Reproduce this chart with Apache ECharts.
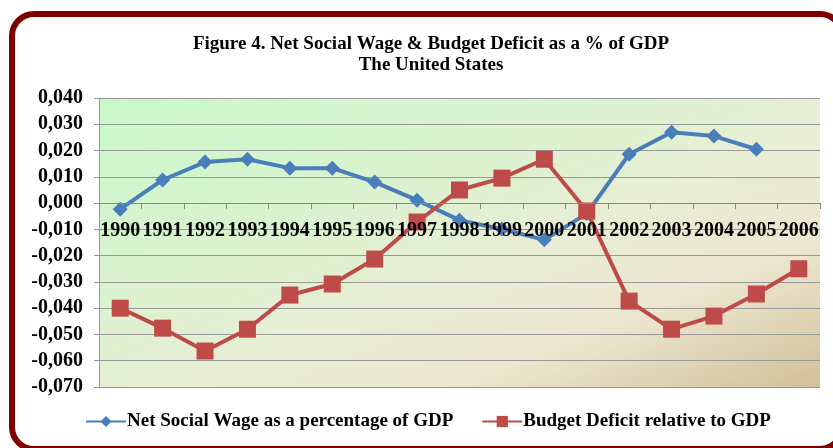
<!DOCTYPE html>
<html>
<head>
<meta charset="utf-8">
<script src="https://cdn.jsdelivr.net/npm/echarts@6/dist/echarts.min.js"></script>
<style>
  html, body { margin: 0; padding: 0; background: #fff; }
  #chart { width: 833px; height: 448px; }
</style>
</head>
<body>
<div id="chart"></div>
<script>
// years on the category axis
var years = ['1990', '1991', '1992', '1993', '1994', '1995', '1996', '1997', '1998',
  '1999', '2000', '2001', '2002', '2003', '2004', '2005', '2006'];
// net social wage, share of GDP (no value for 2006)
var netSocialWage = [-0.0023, 0.0088, 0.0156, 0.0167, 0.0133, 0.0133, 0.0080, 0.0011, -0.0065,
  -0.0099, -0.0140, -0.0040, 0.0186, 0.0270, 0.0255, 0.0205, null];
// budget deficit relative to GDP
var budgetDeficit = [-0.0400, -0.0476, -0.0563, -0.0480, -0.0350, -0.0308, -0.0213, -0.0072, 0.0050,
  0.0095, 0.0167, -0.0030, -0.0373, -0.0480, -0.0430, -0.0346, -0.0250];

var serif = 'Liberation Serif';
var gridTop = 98, gridBottom = 61;
var myChart = echarts.init(document.getElementById('chart'));

// put the category axis on the zero line (labels follow it)
var plotH = 448 - gridTop - gridBottom;
var zeroOffset = -Math.round(plotH * 0.07 / 0.11);

var option = {
  backgroundColor: '#fff',
  animation: false,
  graphic: [{
    type: 'rect',
    z: -1,
    shape: { x: 12, y: 14, width: 830, height: 435, r: 22 },
    style: { fill: 'none', stroke: '#7f0000', lineWidth: 6 }
  }],
  title: {
    text: 'Figure 4. Net Social Wage & Budget Deficit as a % of GDP\nThe United States',
    left: 426,
    top: 29,
    textAlign: 'center',
    textStyle: {
      fontFamily: serif,
      fontWeight: 'bold',
      fontSize: 19,
      lineHeight: 21,
      color: '#000'
    }
  },
  legend: {
    bottom: 12,
    left: 80,
    itemGap: 28,
    itemWidth: 40,
    itemHeight: 14,
    textStyle: { fontFamily: serif, fontWeight: 'bold', fontSize: 19, color: '#000', padding: [0, 0, 0, -4] },
    data: ['Net Social Wage as a percentage of GDP', 'Budget Deficit relative to GDP']
  },
  grid: {
    left: 99,
    right: 13,
    top: gridTop,
    bottom: gridBottom,
    show: true,
    borderWidth: 0,
    // isolines along the anti-diagonal: top-right and bottom-left share one tone
    backgroundColor: new echarts.graphic.LinearGradient(0, 0, 0.277, 1.723, [
      { offset: 0, color: '#c9f9c9' },
      { offset: 0.35, color: '#daf2cf' },
      { offset: 0.55, color: '#e8eed4' },
      { offset: 0.75, color: '#ece6cf' },
      { offset: 1, color: '#d2c098' }
    ])
  },
  xAxis: {
    type: 'category',
    z: 10,
    data: years,
    boundaryGap: true,
    position: 'bottom',
    offset: zeroOffset,
    axisLine: { onZero: false, lineStyle: { color: '#888', width: 1 } },
    axisTick: { show: true, length: 6, lineStyle: { color: '#888' } },
    axisLabel: {
      interval: 0,
      margin: 18,
      fontFamily: serif,
      fontWeight: 'bold',
      fontSize: 20,
      color: '#000'
    },
    splitLine: { show: false }
  },
  yAxis: {
    type: 'value',
    min: -0.07,
    max: 0.04,
    interval: 0.01,
    axisLine: { show: true, lineStyle: { color: '#999' } },
    axisTick: { show: true, length: 5, lineStyle: { color: '#999' } },
    axisLabel: {
      margin: 16,
      fontFamily: serif,
      fontWeight: 'bold',
      fontSize: 20,
      color: '#000',
      formatter: function (v) {
        return (Math.round(v * 1000) / 1000).toFixed(3).replace('.', ',');
      }
    },
    splitLine: { show: true, lineStyle: { color: '#999', width: 1.2 } }
  },
  series: [
    {
      name: 'Net Social Wage as a percentage of GDP',
      type: 'line',
      data: netSocialWage,
      symbol: 'diamond',
      symbolSize: 15,
      itemStyle: { color: '#4a7ebb' },
      lineStyle: { color: '#4a7ebb', width: 4 }
    },
    {
      name: 'Budget Deficit relative to GDP',
      type: 'line',
      data: budgetDeficit,
      symbol: 'rect',
      symbolSize: 17,
      itemStyle: { color: '#be4b48' },
      lineStyle: { color: '#be4b48', width: 4 }
    }
  ]
};
option && myChart.setOption(option);
</script>
</body>
</html>
